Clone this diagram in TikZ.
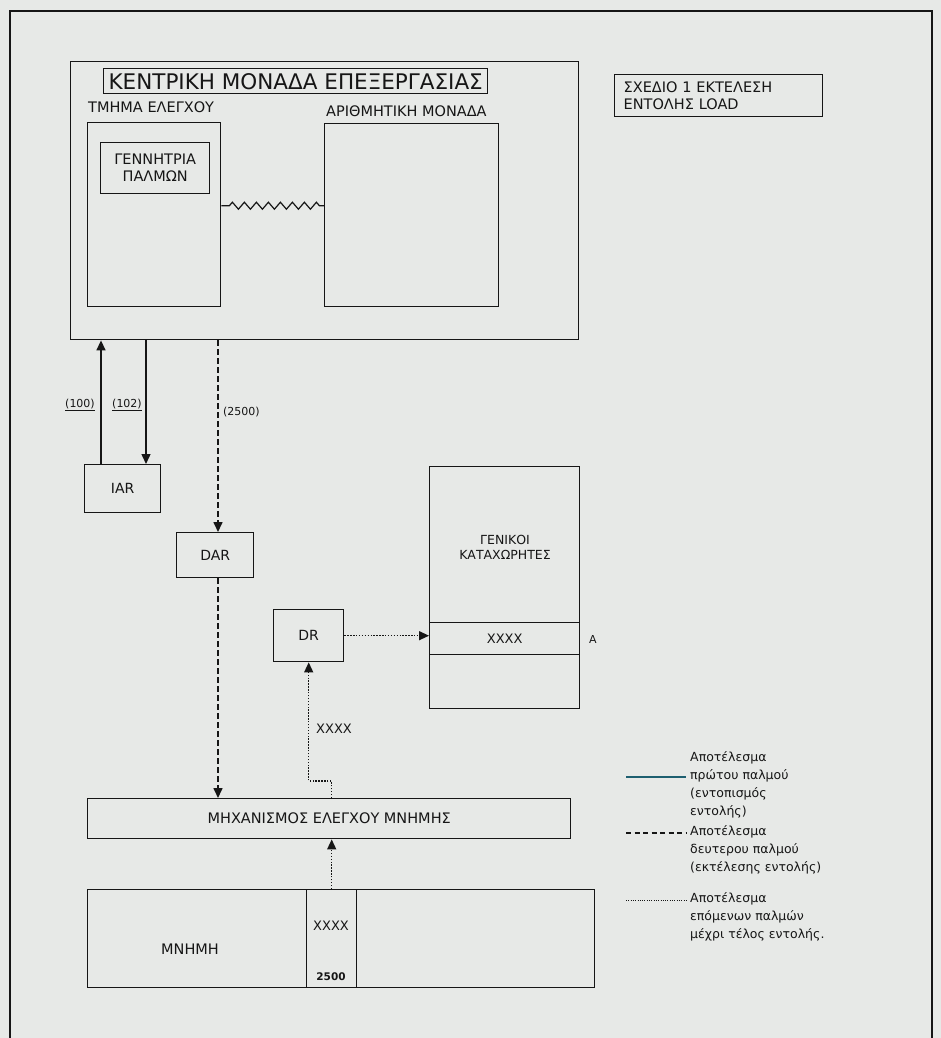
\documentclass[tikz,border=0pt]{standalone}
\usepackage{fontspec}
\setmainfont{DejaVu Sans}
\usetikzlibrary{arrows.meta,decorations.pathmorphing}
\definecolor{paper}{RGB}{231,233,231}
\definecolor{ink}{RGB}{22,22,22}
\definecolor{legteal}{RGB}{30,95,112}
\tikzset{
  box/.style={draw=ink, line width=1.4pt, rectangle, inner sep=0pt, anchor=north west, text=ink,
              font=\fontsize{14}{17}\selectfont},
  lbl/.style={inner sep=0pt, text=ink, font=\fontsize{14.5}{17}\selectfont},
  small/.style={inner sep=0pt, text=ink, font=\fontsize{11}{12}\selectfont},
  legtxt/.style={inner sep=0pt, text=ink, anchor=north west, align=left, font=\fontsize{12.5}{18}\selectfont},
  tip/.style={-{Triangle[length=10pt,width=9pt]}},
  solidarr/.style={tip, draw=ink, line width=1.4pt},
  dasharr/.style={tip, draw=ink, line width=1.6pt, dash pattern=on 6pt off 3pt},
  dotarr/.style={tip, draw=ink, line width=1.3pt, dash pattern=on 1.4pt off 1.5pt},
}
\begin{document}
\begin{tikzpicture}[x=1pt,y=-1pt]
\useasboundingbox (0,0) rectangle (941,1038);
\fill[paper] (0,0) rectangle (941,1038);
% outer frame
\coordinate (f1) at (10,1038);
\coordinate (f2) at (10,11);
\coordinate (f3) at (932,11);
\coordinate (f4) at (932,1038);
\draw[ink, line width=1.6pt] (f1) -- (f2) -- (f3) -- (f4);

% CPU
\node[box, minimum width=508, minimum height=278] (cpu) at (70,61) {};
\node[box, minimum width=384, minimum height=25, font=\fontsize{21.5}{24}\selectfont] (title) at (103,68) {ΚΕΝΤΡΙΚΗ ΜΟΝΑΔΑ ΕΠΕΞΕΡΓΑΣΙΑΣ};
\node[lbl, anchor=west] (ctrllbl) at (88,107) {ΤΜΗΜΑ ΕΛΕΓΧΟΥ};
\node[box, minimum width=133, minimum height=184] (ctrl) at (87,122) {};
\node[box, minimum width=109, minimum height=51, align=center, font=\fontsize{14.5}{17}\selectfont] (gen) at (100,142) {ΓΕΝΝΗΤΡΙΑ\\ΠΑΛΜΩΝ};
\node[lbl, anchor=west] (alulbl) at (326,111) {ΑΡΙΘΜΗΤΙΚΗ ΜΟΝΑΔΑ};
\node[box, minimum width=174, minimum height=183] (alu) at (324,123) {};
\coordinate (z1) at ([yshift=9]ctrl.east);
\draw[ink, line width=1.2pt, decorate, decoration={zigzag, segment length=12pt, amplitude=3.5pt, pre length=8pt, post length=3pt}] (z1) -- (z1 -| alu.west);

% plan caption
\node[box, minimum width=208, minimum height=42, align=left, text width=190, font=\fontsize{14.5}{17}\selectfont] (plan) at (614,74) {ΣΧΕΔΙΟ 1 ΕΚΤΕΛΕΣΗ\\ΕΝΤΟΛΗΣ LOAD};

% registers
\node[box, minimum width=76, minimum height=48] (iar) at (84,464) {IAR};
\node[box, minimum width=77, minimum height=45] (dar) at (176,532) {DAR};
\node[box, minimum width=70, minimum height=52] (dr) at (273,609) {DR};
\node[box, minimum width=150, minimum height=242] (regs) at (429,466) {};
\node[lbl, align=center, font=\fontsize{12.5}{15}\selectfont] (regslbl) at (505,547) {ΓΕΝΙΚΟΙ\\ΚΑΤΑΧΩΡΗΤΕΣ};
\node[box, minimum width=150, minimum height=32, font=\fontsize{13}{15}\selectfont] (slot) at (429,622) {XXXX};
\node[lbl, font=\fontsize{11}{13}\selectfont] (albl) at (593,639) {A};

% memory
\node[box, minimum width=483, minimum height=40, font=\fontsize{14.5}{17}\selectfont] (memctrl) at (87,798) {ΜΗΧΑΝΙΣΜΟΣ ΕΛΕΓΧΟΥ ΜΝΗΜΗΣ};
\node[box, minimum width=507, minimum height=98] (mem) at (87,889) {};
\node[box, minimum width=50, minimum height=98] (cell) at (306,889) {};
\node[lbl] (memlbl) at (190,949) {ΜΝΗΜΗ};
\node[lbl, font=\fontsize{13}{15}\selectfont] (cellx) at (331,926) {XXXX};
\node[small, font=\fontsize{10.5}{12}\bfseries] (celln) at (331,977) {2500};

% first pulse (solid)
\coordinate (a1) at ([xshift=17]iar.north west);
\coordinate (a2) at ([xshift=62]iar.north west);
\draw[solidarr] (a1) -- (a1 |- cpu.south);
\draw[solidarr] (a2 |- cpu.south) -- (a2);
\node[small] (l100) at (80,405) {\underline{(100)}};
\node[small] (l102) at (127,405) {\underline{(102)}};

% second pulse (dashed)
\coordinate (d1) at ([xshift=42]dar.north west);
\coordinate (d2) at ([xshift=42]dar.south west);
\draw[dasharr] (d1 |- cpu.south) -- (d1);
\draw[dasharr] (d2) -- (d2 |- memctrl.north);
\node[small, anchor=west] (l2500) at (223,412) {(2500)};

% following pulses (dotted)
\draw[dotarr] (dr.east) -- (dr.east -| regs.west);
\draw[dotarr] (cell.north) -- (cell.north |- memctrl.south);
\draw[dotarr] (cell.north |- memctrl.north) -- ++(0,-17) -| (dr.south);
\node[lbl, font=\fontsize{13}{15}\selectfont] (xlbl) at (334,729) {XXXX};

% legend
\coordinate (lg1a) at (626,777); \coordinate (lg1b) at (686,777);
\coordinate (lg2a) at (626,833); \coordinate (lg2b) at (686,833);
\coordinate (lg3a) at (626,900); \coordinate (lg3b) at (686,900);
\draw[legteal, line width=1.4pt] (lg1a) -- (lg1b);
\draw[ink, line width=1.4pt, dash pattern=on 5pt off 3.5pt] (lg2a) -- (lg2b);
\draw[ink, line width=1pt, dash pattern=on 1pt off 1.3pt] (lg3a) -- (lg3b);
\node[legtxt] (leg1) at (690,751) {Αποτέλεσμα\\πρώτου παλμού\\(εντοπισμός\\εντολής)};
\node[legtxt] (leg2) at (690,825) {Αποτέλεσμα\\δευτερου παλμού\\(εκτέλεσης εντολής)};
\node[legtxt] (leg3) at (690,892) {Αποτέλεσμα\\επόμενων παλμών\\μέχρι τέλος εντολής.};
\end{tikzpicture}
\end{document}
